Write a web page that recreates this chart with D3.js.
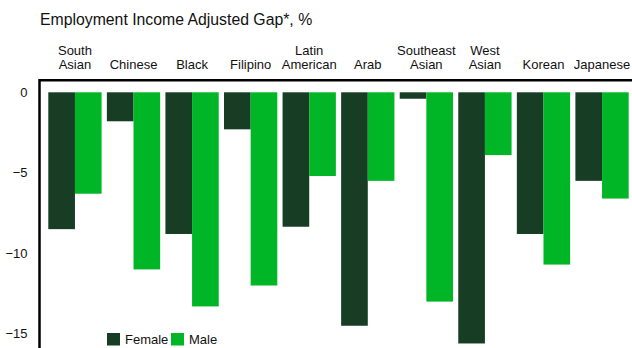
<!DOCTYPE html>
<html>
<head>
<meta charset="utf-8">
<script src="https://cdn.jsdelivr.net/npm/d3@7/dist/d3.min.js"></script>
<style>
  html, body { margin: 0; padding: 0; background: #fff; }
  svg { display: block; font-family: "Liberation Sans", Arial, sans-serif; }
</style>
</head>
<body>
<svg id="chart" width="632" height="348"></svg>
<script>
// Employment income adjusted gap by group, in percent
const categories = [
  ["South", "Asian"], ["Chinese"], ["Black"], ["Filipino"], ["Latin", "American"],
  ["Arab"], ["Southeast", "Asian"], ["West", "Asian"], ["Korean"], ["Japanese"]
];
const femaleValues = [-8.5, -1.8, -8.8, -2.3, -8.35, -14.5, -0.4, -15.6, -8.8, -5.5];
const maleValues   = [-6.3, -11.0, -13.3, -12.0, -5.2, -5.5, -13.0, -3.9, -10.7, -6.6];
const seriesNames  = ["Female", "Male"];
const seriesColors = ["#173d24", "#00b526"];
const yTicks = [0, -5, -10, -15];

const width = 632, height = 348;
const svg = d3.select("#chart");

const keys = categories.map(c => c.join(" "));
const x = d3.scaleBand().domain(keys).range([48.3, 628.7]).paddingInner(0.09).paddingOuter(0);
const xs = d3.scaleBand().domain(seriesNames).range([0, x.bandwidth()]);
const y = d3.scaleLinear().domain([0, -15]).range([92.3, 333.8]);

const rows = keys.map((k, i) => ({ key: k, values: [femaleValues[i], maleValues[i]] }));

// Title
svg.append("text")
  .attr("x", 40).attr("y", 25)
  .attr("font-size", 15.8).attr("fill", "#111")
  .text("Employment Income Adjusted Gap*, %");

// Bars
const groups = svg.append("g").selectAll("g").data(rows).join("g")
  .attr("transform", d => `translate(${x(d.key)},0)`);
groups.selectAll("rect")
  .data(d => d.values.map((v, j) => ({ v, name: seriesNames[j], color: seriesColors[j] })))
  .join("rect")
  .attr("x", d => xs(d.name))
  .attr("width", xs.bandwidth())
  .attr("y", d => Math.min(y(0), y(d.v)))
  .attr("height", d => Math.abs(y(d.v) - y(0)))
  .attr("fill", d => d.color);

// Frame: top and left rules
const frameTop = y(0) - 12;
const frameLeft = 39.5;
svg.append("path")
  .attr("d", `M${frameLeft},${height} L${frameLeft},${frameTop} L${width},${frameTop}`)
  .attr("fill", "none").attr("stroke", "#000").attr("stroke-width", 2.5);

// Category labels above the frame
const catLabels = svg.append("g").selectAll("text").data(categories).join("text")
  .attr("text-anchor", "middle")
  .attr("font-size", 13).attr("fill", "#111")
  .attr("transform", (d, i) => `translate(${x(keys[i]) + x.bandwidth() / 2},0)`);
catLabels.selectAll("tspan").data(d => d.length === 2 ? d : [null, d[0]]).join("tspan")
  .attr("x", 0)
  .attr("y", (d, i) => i === 0 ? 55 : 68.5)
  .text(d => d || "");

// Y axis labels
const yAxis = d3.axisLeft(y).tickValues(yTicks).tickSize(0).tickPadding(0)
  .tickFormat(d3.format("d"));
const ya = svg.append("g").attr("transform", "translate(27.5,0)").call(yAxis);
ya.select(".domain").remove();
ya.selectAll("text").attr("font-size", 13).attr("fill", "#111")
  .attr("font-family", "Liberation Sans, Arial, sans-serif");

// Legend
const legend = svg.append("g").attr("transform", "translate(107,333)");
const li = legend.selectAll("g").data(seriesNames).join("g")
  .attr("transform", (d, i) => `translate(${i * 64},0)`);
li.append("rect").attr("width", 13).attr("height", 12.5)
  .attr("fill", (d, i) => seriesColors[i]);
li.append("text").attr("x", 18).attr("y", 11).attr("font-size", 13).attr("fill", "#111")
  .text(d => d);
</script>
</body>
</html>
